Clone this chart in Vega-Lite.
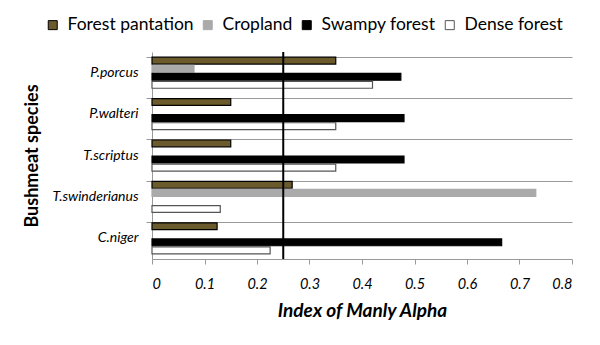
{
  "$schema": "https://vega.github.io/schema/vega-lite/v6.json",
  "autosize": "none",
  "width": 420,
  "height": 207,
  "padding": {"left": 152, "top": 52, "right": 28, "bottom": 86},
  "background": "white",
  "config": {
    "view": {"stroke": null},
    "font": "Lato",
    "axis": {"labelColor": "black", "titleColor": "black", "domainColor": "#999999", "tickColor": "#999999", "gridColor": "#999999"}
  },
  "layer": [
    {
      "data": {
        "values": [
          {"species": "P.porcus", "habitat": "Forest pantation", "value": 0.35},
          {"species": "P.porcus", "habitat": "Cropland", "value": 0.08},
          {"species": "P.porcus", "habitat": "Swampy forest", "value": 0.474},
          {"species": "P.porcus", "habitat": "Dense forest", "value": 0.42},
          {"species": "P.walteri", "habitat": "Forest pantation", "value": 0.15},
          {"species": "P.walteri", "habitat": "Swampy forest", "value": 0.48},
          {"species": "P.walteri", "habitat": "Dense forest", "value": 0.35},
          {"species": "T.scriptus", "habitat": "Forest pantation", "value": 0.15},
          {"species": "T.scriptus", "habitat": "Swampy forest", "value": 0.48},
          {"species": "T.scriptus", "habitat": "Dense forest", "value": 0.35},
          {"species": "T.swinderianus", "habitat": "Forest pantation", "value": 0.267},
          {"species": "T.swinderianus", "habitat": "Cropland", "value": 0.731},
          {"species": "T.swinderianus", "habitat": "Dense forest", "value": 0.13},
          {"species": "C.niger", "habitat": "Forest pantation", "value": 0.124},
          {"species": "C.niger", "habitat": "Swampy forest", "value": 0.666},
          {"species": "C.niger", "habitat": "Dense forest", "value": 0.225}
        ]
      },
      "mark": {"type": "bar", "strokeWidth": 1.2},
      "encoding": {
        "y": {
          "field": "species",
          "type": "nominal",
          "sort": ["P.porcus", "P.walteri", "T.scriptus", "T.swinderianus", "C.niger"],
          "scale": {"paddingInner": 0.25, "paddingOuter": 0.125},
          "axis": {
            "title": "Bushmeat species",
            "titleFontSize": 18,
            "titleFontWeight": "bold",
            "titlePadding": 10,
            "labelFontSize": 14,
            "labelFontStyle": "italic",
            "labelPadding": 8,
            "bandPosition": 0,
            "grid": true,
            "tickSize": 6
          }
        },
        "yOffset": {
          "field": "habitat",
          "type": "nominal",
          "scale": {"domain": ["Forest pantation", "Cropland", "Swampy forest", "Dense forest"], "paddingInner": 0.15, "paddingOuter": 0}
        },
        "x": {
          "field": "value",
          "type": "quantitative",
          "scale": {"domain": [0, 0.8], "nice": false},
          "axis": {
            "title": "Index of Manly Alpha",
            "titleFontSize": 19,
            "titleFontWeight": "bold",
            "titleFontStyle": "italic",
            "titlePadding": 11,
            "values": [0, 0.1, 0.2, 0.3, 0.4, 0.5, 0.6, 0.7, 0.8],
            "format": "~g",
            "labelFontSize": 14.5,
            "labelFontStyle": "italic",
            "labelPadding": 13,
            "tickSize": 5,
            "grid": false
          }
        },
        "fill": {
          "field": "habitat",
          "type": "nominal",
          "scale": {"domain": ["Forest pantation", "Cropland", "Swampy forest", "Dense forest"], "range": ["#6b5a2b", "#aaaaaa", "#000000", "#ffffff"]},
          "legend": {
            "title": null,
            "orient": "none",
            "direction": "horizontal",
            "legendX": -108,
            "legendY": -36,
            "labelFontSize": 17.5,
            "labelColor": "black",
            "symbolType": "square",
            "symbolSize": 81,
            "symbolStrokeWidth": 1,
            "columnPadding": 5,
            "labelOffset": 6
          }
        },
        "stroke": {
          "field": "habitat",
          "type": "nominal",
          "scale": {"domain": ["Forest pantation", "Cropland", "Swampy forest", "Dense forest"], "range": ["#000000", "#aaaaaa", "#000000", "#555555"]},
          "legend": {
            "title": null,
            "orient": "none",
            "direction": "horizontal",
            "legendX": -108,
            "legendY": -36,
            "labelFontSize": 17.5,
            "labelColor": "black",
            "symbolType": "square",
            "symbolSize": 81,
            "symbolStrokeWidth": 1,
            "columnPadding": 5,
            "labelOffset": 6
          }
        }
      }
    },
    {
      "data": {"values": [{"threshold": 0.25}]},
      "mark": {"type": "rule", "color": "black", "strokeWidth": 2},
      "encoding": {"x": {"field": "threshold", "type": "quantitative"}}
    }
  ]
}
